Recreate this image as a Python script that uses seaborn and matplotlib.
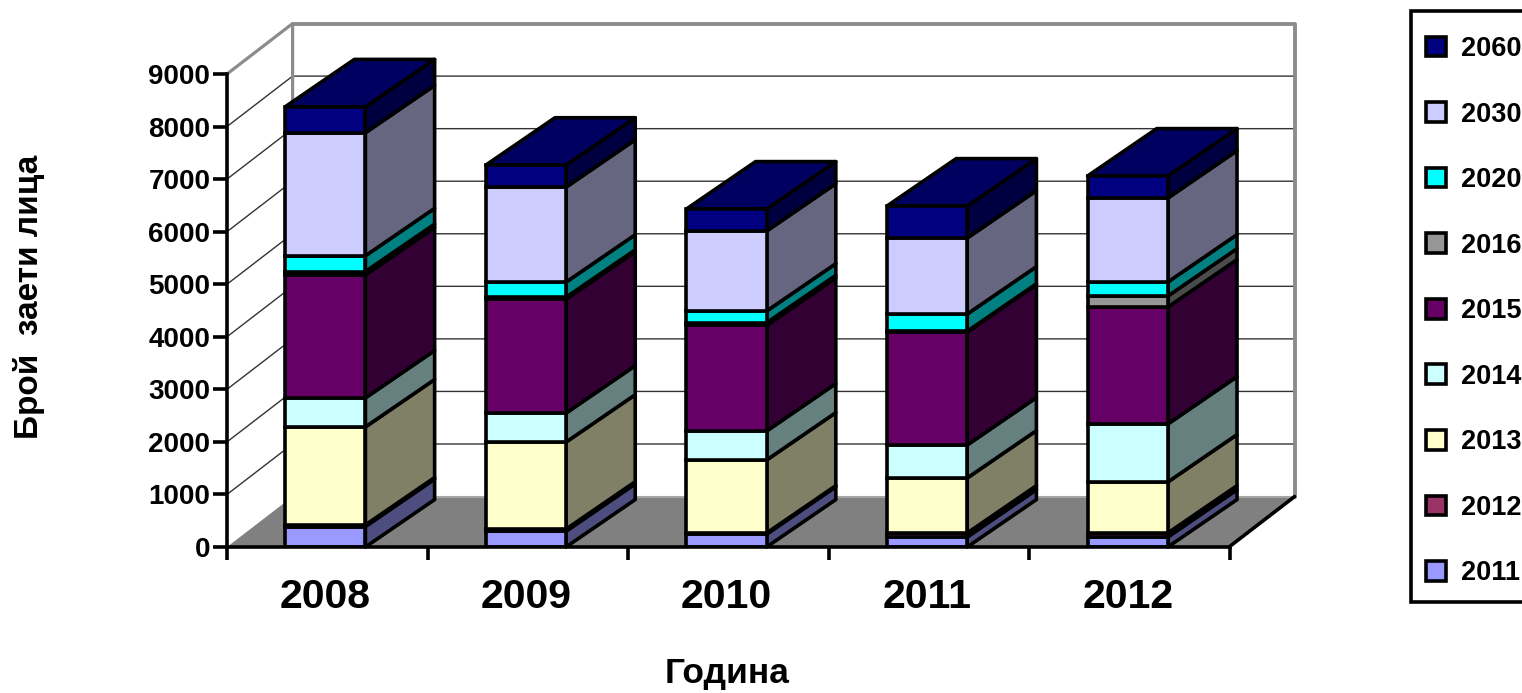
import numpy as np
import pandas as pd
import matplotlib
matplotlib.use('Agg')
import matplotlib.pyplot as plt
import seaborn as sns
from matplotlib.patches import Patch, Polygon, Rectangle
from matplotlib.colors import to_rgb

years = ['2008', '2009', '2010', '2011', '2012']
y_ticks = [0, 1000, 2000, 3000, 4000, 5000, 6000, 7000, 8000, 9000]

v2011 = [390, 300, 245, 190, 190]
v2012 = [30, 40, 21, 76, 76]
v2013 = [1865, 1656, 1389, 1047, 971]
v2014 = [552, 552, 552, 628, 1103]
v2015 = [2340, 2168, 2010, 2150, 2226]
v2016 = [65, 35, 50, 15, 209]
v2020 = [300, 289, 223, 327, 267]
v2030 = [2340, 1807, 1522, 1446, 1598]
v2060 = [494, 419, 419, 609, 419]

series_names = ['2011', '2012', '2013', '2014', '2015', '2016', '2020', '2030', '2060']
series_values = [v2011, v2012, v2013, v2014, v2015, v2016, v2020, v2030, v2060]
series_colors = ['#9999FF', '#993366', '#FFFFCC', '#CCFFFF', '#660066',
                 '#969696', '#00FFFF', '#CCCCFF', '#000080']

BLACK = '#000000'  # set_theme remaps the 'k' colour code to dark grey

sns.set_theme(style='white')
plt.rcParams['font.family'] = ['Liberation Sans', 'DejaVu Sans']
plt.rcParams['font.weight'] = 'bold'
plt.rcParams['text.color'] = BLACK
plt.rcParams['xtick.color'] = BLACK
plt.rcParams['ytick.color'] = BLACK

W, H = 1522, 693
fig = plt.figure(figsize=(W / 100, H / 100), dpi=100)
ax = fig.add_axes([227 / W, 1 - 547 / H, (1230 - 227) / W, (547 - 74) / H])
ax.patch.set_visible(False)

LW = 2.6
bar_w = 0.40
# depth of the walls and of the bars, in data units
wall_dx, wall_dy = 0.327, 960
bar_dx, bar_dy = 0.345, 902
xmin, xmax = -0.49, 4.505


def shade(color, k):
    return tuple(c * k for c in to_rgb(color))


# walls and floor
ax.add_patch(Polygon([(xmin, 0), (xmax, 0), (xmax + wall_dx, wall_dy), (xmin + wall_dx, wall_dy)],
                     closed=True, fc='#808080', ec='none', clip_on=False, zorder=1))
wall_top = 9000 + wall_dy
wall_col = '#8c8c8c'
ax.plot([xmin, xmin + wall_dx, xmin + wall_dx], [9000, wall_top, wall_dy], color=wall_col, lw=2.3,
        clip_on=False, zorder=1.5)
ax.plot([xmin + wall_dx, xmax + wall_dx, xmax + wall_dx], [wall_top, wall_top, wall_dy], color=wall_col, lw=2.8,
        clip_on=False, zorder=1.5)
ax.plot([xmin + wall_dx, xmax + wall_dx], [wall_dy, wall_dy], color='#a6a6a6', lw=1.5, clip_on=False, zorder=1.4)
ax.plot([xmax, xmax + wall_dx], [0, wall_dy], color=BLACK, lw=LW, clip_on=False, zorder=1.6)
for t in y_ticks[1:-1]:
    ax.plot([xmin, xmin + wall_dx, xmax + wall_dx], [t, t + wall_dy, t + wall_dy], color='#333333', lw=1.0,
            clip_on=False, zorder=1.2)

df = pd.DataFrame(dict(zip(series_names, series_values)), index=years)
bottom = np.zeros(len(years))
for name, color in zip(series_names, series_colors):
    vals = df[name].to_numpy(dtype=float)
    sns.barplot(x=years, y=vals, bottom=bottom, color=color, saturation=1, width=bar_w, errorbar=None,
                edgecolor=BLACK, linewidth=LW, zorder=5, ax=ax)
    # side faces
    for i in range(len(years)):
        x1 = i + bar_w / 2
        ax.add_patch(Polygon([(x1, bottom[i]), (x1 + bar_dx, bottom[i] + bar_dy),
                              (x1 + bar_dx, bottom[i] + vals[i] + bar_dy), (x1, bottom[i] + vals[i])],
                             closed=True, fc=shade(color, 0.5), ec=BLACK, lw=LW, joinstyle='round',
                             clip_on=False, zorder=4))
    bottom = bottom + vals

# top faces take the colour of the last series
for i in range(len(years)):
    x0, x1 = i - bar_w / 2, i + bar_w / 2
    ax.add_patch(Polygon([(x0, bottom[i]), (x1, bottom[i]), (x1 + bar_dx, bottom[i] + bar_dy),
                          (x0 + bar_dx, bottom[i] + bar_dy)],
                         closed=True, fc=shade(series_colors[-1], 0.75), ec=BLACK, lw=LW, joinstyle='round',
                         clip_on=False, zorder=4.5))

ax.set_xlim(xmin, xmax)
ax.set_ylim(0, 9000)
sns.despine(ax=ax, top=True, right=True)
for side in ['left', 'bottom']:
    ax.spines[side].set_color(BLACK)
    ax.spines[side].set_linewidth(LW)
    ax.spines[side].set_zorder(6)

ax.set_yticks(y_ticks)
ax.set_yticklabels([str(t) for t in y_ticks], fontsize=20, fontweight='bold')
ax.tick_params(axis='y', left=True, length=10, width=LW, color=BLACK, pad=2)

ax.set_xticks(np.arange(6) + xmin)
ax.set_xticklabels([''] * 6)
ax.set_xticks(np.arange(5), labels=years, minor=True, fontsize=29.5, fontweight='bold')
ax.tick_params(axis='x', which='major', bottom=True, length=9, width=LW, color=BLACK)
ax.tick_params(axis='x', which='minor', bottom=False, length=0, pad=22)

fig.text(727 / W, 1 - 674 / H, 'Година', fontsize=25.5, fontweight='bold', ha='center', va='center')
fig.text(29 / W, 1 - 297 / H, 'Брой  заети лица', fontsize=24, fontweight='bold', rotation=90,
         ha='center', va='center')

# legend box runs off the right edge of the picture
fig.add_artist(Rectangle((1411 / W, 1 - 602 / H), 200 / W, 591 / H, transform=fig.transFigure,
                         fc='white', ec=BLACK, lw=LW, zorder=0))
handles = [Patch(facecolor=c, edgecolor=BLACK, linewidth=LW) for c in series_colors[::-1]]
leg = fig.legend(handles, series_names[::-1], loc='upper left', bbox_to_anchor=(1426 / W, 1 - 36 / H),
                 bbox_transform=fig.transFigure, borderaxespad=0, borderpad=0, labelspacing=1.46,
                 handlelength=0.74, handleheight=0.74, handletextpad=0.55,
                 prop={'size': 19.5, 'weight': 'bold'}, frameon=False)

fig.savefig('out.png', dpi=100)
